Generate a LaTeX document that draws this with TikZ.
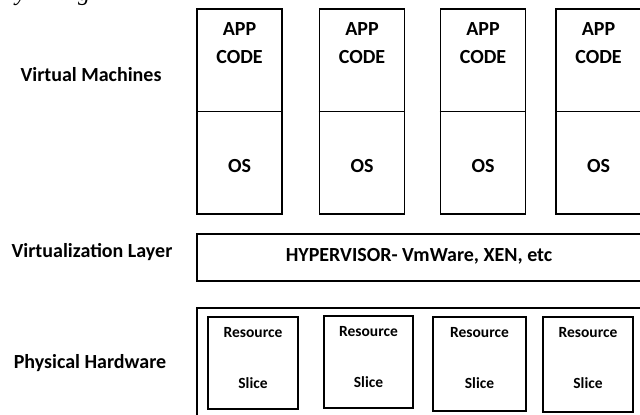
\documentclass[tikz,border=0pt]{standalone}
\usepackage{fontspec}
\setmainfont{Carlito}
\newfontfamily\capfont{Liberation Serif}
\begin{document}
\begin{tikzpicture}[x=1pt,y=-1pt,
  box/.style={draw=black,line width=1.6pt,rectangle,inner sep=0pt,fill=white},
  lbl/.style={font=\fontsize{20}{24}\selectfont\bfseries,inner sep=0pt,anchor=center},
  vmtxt/.style={font=\fontsize{20}{28}\selectfont\bfseries,inner sep=0pt,align=center},
  restxt/.style={font=\fontsize{15.5}{18}\selectfont\bfseries,inner sep=0pt}]
\useasboundingbox (0,0) rectangle (640,415);
\clip (0,0) rectangle (640,415);
\fill[white] (0,0) rectangle (640,415);
% cropped caption fragment
\node[font=\capfont\itshape\fontsize{24}{28}\selectfont,anchor=base,inner sep=0pt] (capy) at (21,1) {y};
\node[font=\capfont\itshape\fontsize{24}{28}\selectfont,anchor=base,inner sep=0pt] (capg) at (84,1) {g};
% labels
\node[lbl] (lvm) at (91,75) {Virtual Machines};
\node[lbl] (lvl) at (92,252) {Virtualization Layer};
\node[lbl] (lph) at (90,363) {Physical Hardware};
% virtual machines
\foreach \i/\x in {1/239.5,2/362,3/483,4/598.5}{
  \node[box,minimum width=85pt,minimum height=205pt] (vm\i) at (\x,111.5) {};
  \draw[line width=1.6pt] (vm\i.west) -- (vm\i.east);
  \node[vmtxt] (app\i) at (\x,43) {APP\\CODE};
  \node[vmtxt] (os\i) at (\x,166) {OS};
}
% hypervisor
\node[box,minimum width=448pt,minimum height=47pt] (hyp) at (421,257.5) {};
\node[lbl] (hyptxt) at (419,256) {HYPERVISOR- VmWare, XEN, etc};
% physical hardware
\node[box,minimum width=448pt,minimum height=120pt] (phys) at (421,368) {};
\foreach \i/\xa/\ya/\xb/\yb in {1/208/317/298/409,2/324/316/413/408,3/433/317/526/411,4/543/317/633/412}{
  \node[box,minimum width={\xb-\xa},minimum height={\yb-\ya}] (sl\i) at ({(\xa+\xb)/2},{(\ya+\yb)/2}) {};
  \node[restxt] (res\i) at ({(\xa+\xb)/2},{\ya+16}) {Resource};
  \node[restxt] (sli\i) at ({(\xa+\xb)/2},{\ya+66}) {Slice};
}
\end{tikzpicture}
\end{document}
